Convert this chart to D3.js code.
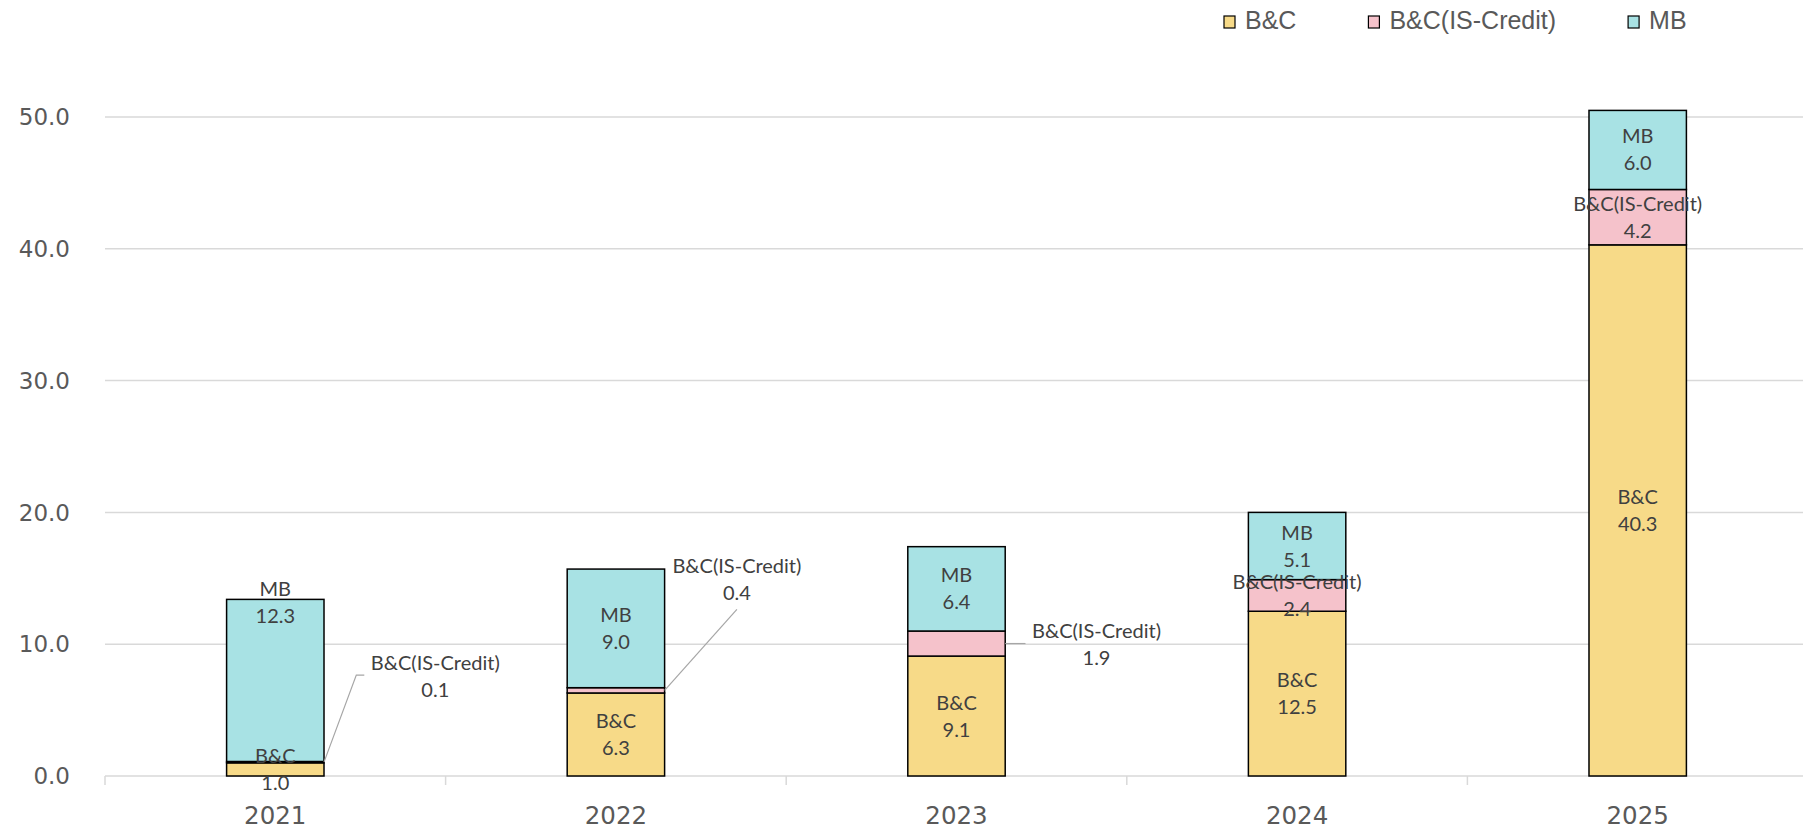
<!DOCTYPE html>
<meta charset="utf-8">
<script src="https://cdn.jsdelivr.net/npm/d3@7"></script>
<style>
body { margin: 0; background: #fff; }
.axis text { font-family: "DejaVu Sans", sans-serif; font-size: 23px; fill: #595959; }
.axis.xlab text { font-size: 24.5px; }
.legend text { font-family: "Liberation Sans", Arial, sans-serif; font-size: 25px; fill: #595959; }
.dlabel { font-family: Lato, "Open Sans", sans-serif; font-size: 20px; fill: #404040; }
.leader { fill: none; stroke: #a6a6a6; stroke-width: 1.2px; }
</style>
<body>
<script>

// data
var years = ["2021", "2022", "2023", "2024", "2025"];
var seriesNames = ["B&C", "B&C(IS-Credit)", "MB"];
var bc       = [1.0, 6.3, 9.1, 12.5, 40.3];
var isCredit = [0.1, 0.4, 1.9, 2.4, 4.2];
var mb       = [12.3, 9.0, 6.4, 5.1, 6.0];
var yTicks   = [0, 10, 20, 30, 40, 50];

var colors = {"B&C": "#f7da88", "B&C(IS-Credit)": "#f5c2cb", "MB": "#a8e2e4"};

// manual label placement (px offsets from the segment centre) + leader style
var nudges = {
  "2021|B&C(IS-Credit)": {dx: 160, dy: -86, leader: "elbow"},
  "2022|B&C(IS-Credit)": {dx: 121, dy: -111, leader: "below"},
  "2023|B&C(IS-Credit)": {dx: 140, dy: 1, leader: "flat"},
  "2021|MB": {dx: 0, dy: -78}
};

var w = 1803, h = 829,
    plotLeft = 105, plotRight = 1808, plotTop = 117, plotBottom = 776;

var svg = d3.select("body").append("svg")
    .attr("width", w)
    .attr("height", h);

var table = years.map(function(y, i) {
  return {year: y, "B&C": bc[i], "B&C(IS-Credit)": isCredit[i], "MB": mb[i]};
});
var stacked = d3.stack().keys(seriesNames)(table);

var x = d3.scaleBand().domain(years).range([plotLeft, plotRight])
    .paddingInner(0.714).paddingOuter(0.357);
var y = d3.scaleLinear().domain([0, 50]).range([plotBottom, plotTop]);

// gridlines
svg.append("g")
  .selectAll("line")
  .data(yTicks.filter(function(d) { return d > 0; }))
  .enter().append("line")
    .attr("x1", plotLeft).attr("x2", w)
    .attr("y1", function(d) { return y(d); })
    .attr("y2", function(d) { return y(d); })
    .attr("stroke", "#d9d9d9").attr("stroke-width", 1.5);

// y labels
svg.append("g").attr("class", "axis")
  .selectAll("text")
  .data(yTicks)
  .enter().append("text")
    .attr("x", 70)
    .attr("y", function(d) { return y(d); })
    .attr("dy", "0.36em")
    .attr("text-anchor", "end")
    .text(function(d) { return d3.format(".1f")(d); });

// x axis line + ticks between categories
var step = x.step();
svg.append("line")
  .attr("x1", plotLeft).attr("x2", w)
  .attr("y1", plotBottom).attr("y2", plotBottom)
  .attr("stroke", "#d9d9d9").attr("stroke-width", 1.5);
svg.append("g")
  .selectAll("line")
  .data(d3.range(years.length + 1))
  .enter().append("line")
    .attr("x1", function(i) { return plotLeft + i * step; })
    .attr("x2", function(i) { return plotLeft + i * step; })
    .attr("y1", plotBottom).attr("y2", plotBottom + 9)
    .attr("stroke", "#d9d9d9").attr("stroke-width", 1.5);

svg.append("g").attr("class", "axis xlab")
  .selectAll("text")
  .data(years)
  .enter().append("text")
    .attr("x", function(d) { return x(d) + x.bandwidth() / 2; })
    .attr("y", 824)
    .attr("text-anchor", "middle")
    .text(function(d) { return d; });

// bars
var layers = svg.append("g")
  .selectAll("g")
  .data(stacked)
  .enter().append("g")
    .attr("fill", function(d) { return colors[d.key]; });

layers.selectAll("rect")
  .data(function(d) { return d; })
  .enter().append("rect")
    .attr("x", function(d) { return x(d.data.year); })
    .attr("width", x.bandwidth())
    .attr("y", function(d) { return y(d[1]); })
    .attr("height", function(d) { return y(d[0]) - y(d[1]); })
    .attr("stroke", "#000")
    .attr("stroke-width", 1.5);

// data labels
var labels = [];
stacked.forEach(function(s) {
  s.forEach(function(d) {
    var cx = x(d.data.year) + x.bandwidth() / 2,
        cy = (y(d[0]) + y(d[1])) / 2,
        n = nudges[d.data.year + "|" + s.key] || {dx: 0, dy: 0};
    labels.push({name: s.key, value: d[1] - d[0], cx: cx, cy: cy,
                 lx: cx + n.dx, ly: cy + n.dy, leader: n.leader,
                 edge: x(d.data.year) + x.bandwidth()});
  });
});

var lg = svg.append("g");
lg.selectAll("path")
  .data(labels.filter(function(d) { return d.leader; }))
  .enter().append("path")
    .attr("class", "leader")
    .attr("d", function(d) {
      if (d.leader == "elbow")
        return "M" + d.edge + "," + d.cy + "L" + (d.lx - 79) + "," + (d.ly - 1) + "H" + (d.lx - 71);
      if (d.leader == "below")
        return "M" + d.edge + "," + d.cy + "L" + d.lx + "," + (d.ly + 30);
      return "M" + d.edge + "," + d.cy + "H" + (d.lx - 71);
    });

var lt = lg.selectAll("g.lab")
  .data(labels)
  .enter().append("g")
    .attr("class", "lab");
lt.append("text")
    .attr("class", "dlabel")
    .attr("x", function(d) { return d.lx; })
    .attr("y", function(d) { return d.ly - 13.5; })
    .attr("dy", "0.35em")
    .attr("text-anchor", "middle")
    .text(function(d) { return d.name; });
lt.append("text")
    .attr("class", "dlabel")
    .attr("x", function(d) { return d.lx; })
    .attr("y", function(d) { return d.ly + 13.5; })
    .attr("dy", "0.35em")
    .attr("text-anchor", "middle")
    .text(function(d) { return d3.format(".1f")(d.value); });

// legend
var legend = svg.append("g").attr("class", "legend");
var legX = 1224;
seriesNames.forEach(function(k) {
  legend.append("rect")
    .attr("x", legX).attr("y", 16)
    .attr("width", 11).attr("height", 12)
    .attr("fill", colors[k])
    .attr("stroke", "#000").attr("stroke-width", 1.2);
  var t = legend.append("text")
    .attr("x", legX + 21).attr("y", 29)
    .text(k);
  legX = legX + 21 + t.node().getComputedTextLength() + 72;
});

</script>
</body>
